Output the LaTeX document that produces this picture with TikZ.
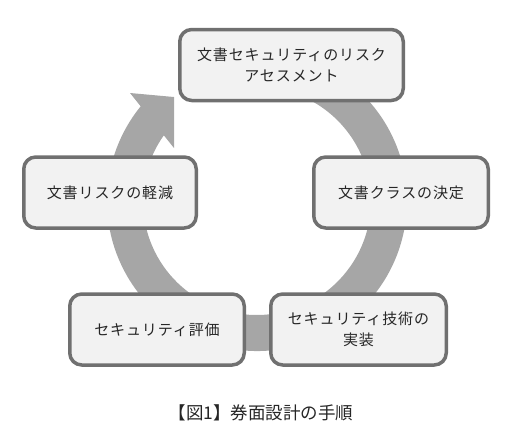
\documentclass[tikz,border=0pt]{standalone}
\usepackage{fontspec}
\usetikzlibrary{calc}
\newfontfamily\jpbox[LetterSpace=6]{Noto Sans CJK JP}
\newfontfamily\jpcap{Noto Sans CJK JP}
\definecolor{ringgray}{HTML}{A6A6A6}
\definecolor{boxline}{HTML}{707070}
\definecolor{boxfill}{HTML}{F2F2F2}
\definecolor{txt}{HTML}{262626}
\begin{document}
\begin{tikzpicture}[x=1pt,y=1pt,
  stepbox/.style={draw=boxline, line width=3.5pt, fill=boxfill,
    rounded corners=12pt, minimum height=71pt, align=center,
    font=\jpbox\fontsize{15}{21}\selectfont, text=txt,
    inner sep=2pt, outer sep=0pt}]
\useasboundingbox (0,0) rectangle (510,-447);
% circular arrow (ring + head)
\coordinate (c) at (257,-201);
\fill[ringgray] (130,-93) -- (174,-97) -- (174,-148) -- (163.8,-135.3)
  arc[start angle=144.8, end angle=435, radius=114]
  -- ($(c)+(435:150)$)
  arc[start angle=435, end angle=140.85, radius=150] -- cycle;
% boxes
\node[stepbox, minimum width=223.5pt] (risk) at (291.5,-65)
  {文書セキュリティのリスク\\アセスメント};
\node[stepbox, minimum width=174.5pt] (klass) at (401,-192.5)
  {文書クラスの決定};
\node[stepbox, minimum width=175.5pt] (impl) at (358.5,-329.5)
  {セキュリティ技術の\\実装};
\node[stepbox, minimum width=174.5pt] (eval) at (157,-329.5)
  {セキュリティ評価};
\node[stepbox, minimum width=172.5pt] (mitig) at (110,-192.5)
  {文書リスクの軽減};
% caption
\node[font=\jpcap\fontsize{17.5}{20}\selectfont, text=txt, inner sep=0pt] (cap) at (261,-413)
  {【図1】券面設計の手順};
\end{tikzpicture}
\end{document}
